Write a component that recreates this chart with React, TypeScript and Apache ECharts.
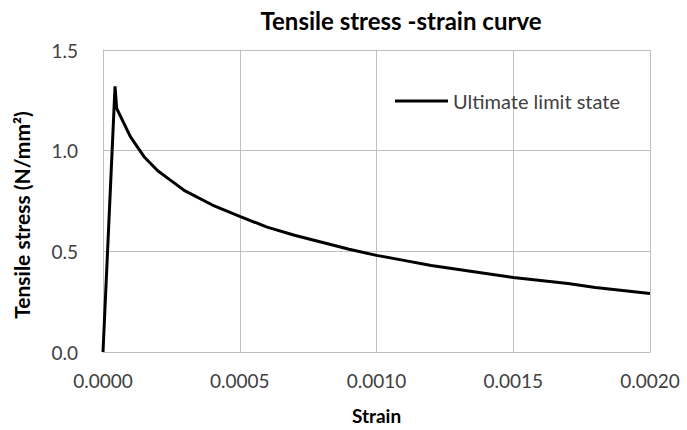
import React, { useEffect, useRef } from "react";
import * as echarts from "echarts";

const strain = [0, 0.000044, 0.00005, 0.0001, 0.00015, 0.0002, 0.00025, 0.0003, 0.0004, 0.0005, 0.0006, 0.0007, 0.0008, 0.0009, 0.001, 0.0011, 0.0012, 0.0013, 0.0014, 0.0015, 0.0016, 0.0017, 0.0018, 0.0019, 0.002];
const stress = [0, 1.32, 1.21, 1.07, 0.97, 0.9, 0.85, 0.8, 0.73, 0.674, 0.62, 0.58, 0.545, 0.51, 0.48, 0.455, 0.43, 0.41, 0.39, 0.37, 0.355, 0.34, 0.32, 0.305, 0.29];
const seriesName = "Ultimate limit state";
const titleText = "Tensile stress -strain curve";
const xName = "Strain";
const yName = "Tensile stress (N/mm²)";

const FONT = "Lato, 'Open Sans', sans-serif";

export default function App() {
  const ref = useRef<HTMLDivElement>(null);
  useEffect(() => {
    if (!ref.current) return;
    const chart = echarts.init(ref.current, null, { renderer: "svg" });
    chart.setOption({
      animation: false,
      backgroundColor: "#ffffff",
      textStyle: { fontFamily: FONT },
      title: {
        text: titleText,
        left: 396,
        textAlign: "center",
        top: 3,
        textStyle: { fontSize: 24, fontWeight: "bold", color: "#000", fontFamily: FONT },
      },
      legend: {
        left: 390,
        top: 86,
        itemWidth: 53,
        itemHeight: 3,
        textStyle: { fontSize: 20, color: "#404040", fontFamily: FONT },
        data: [{ name: seriesName, icon: "rect", itemStyle: { color: "#000" } }],
      },
      grid: { left: 103, right: 37, top: 50, bottom: 75 },
      xAxis: {
        type: "value",
        min: 0,
        max: 0.002,
        interval: 0.0005,
        name: xName,
        nameLocation: "middle",
        nameGap: 54,
        nameTextStyle: { fontSize: 19, fontWeight: "bold", color: "#000", fontFamily: FONT },
        axisLine: { show: true, lineStyle: { color: "#BFBFBF", width: 1 } },
        axisTick: { show: false },
        axisLabel: {
          fontSize: 19,
          color: "#404040",
          margin: 19,
          formatter: (v: number) => v.toFixed(4),
        },
        splitLine: { show: true, lineStyle: { color: "#BFBFBF", width: 1 } },
      },
      yAxis: {
        type: "value",
        min: 0,
        max: 1.5,
        interval: 0.5,
        name: yName,
        nameLocation: "middle",
        nameGap: 71,
        nameTextStyle: { fontSize: 21, fontWeight: "bold", color: "#000", fontFamily: FONT, padding: [0, 28, 0, 0] },
        axisLine: { show: true, lineStyle: { color: "#BFBFBF", width: 1 } },
        axisTick: { show: false },
        axisLabel: {
          fontSize: 19,
          color: "#404040",
          margin: 25,
          formatter: (v: number) => v.toFixed(1),
        },
        splitLine: { show: true, lineStyle: { color: "#BFBFBF", width: 1 } },
      },
      series: [
        {
          name: seriesName,
          type: "line",
          data: strain.map((s, i) => [s, stress[i]]),
          symbol: "none",
          smooth: false,
          lineStyle: { color: "#000", width: 3 },
          itemStyle: { color: "#000" },
        },
      ],
    });
    return () => chart.dispose();
  }, []);
  return <div ref={ref} style={{ width: 687, height: 430, position: "absolute", left: 0, top: 0 }} />;
}
